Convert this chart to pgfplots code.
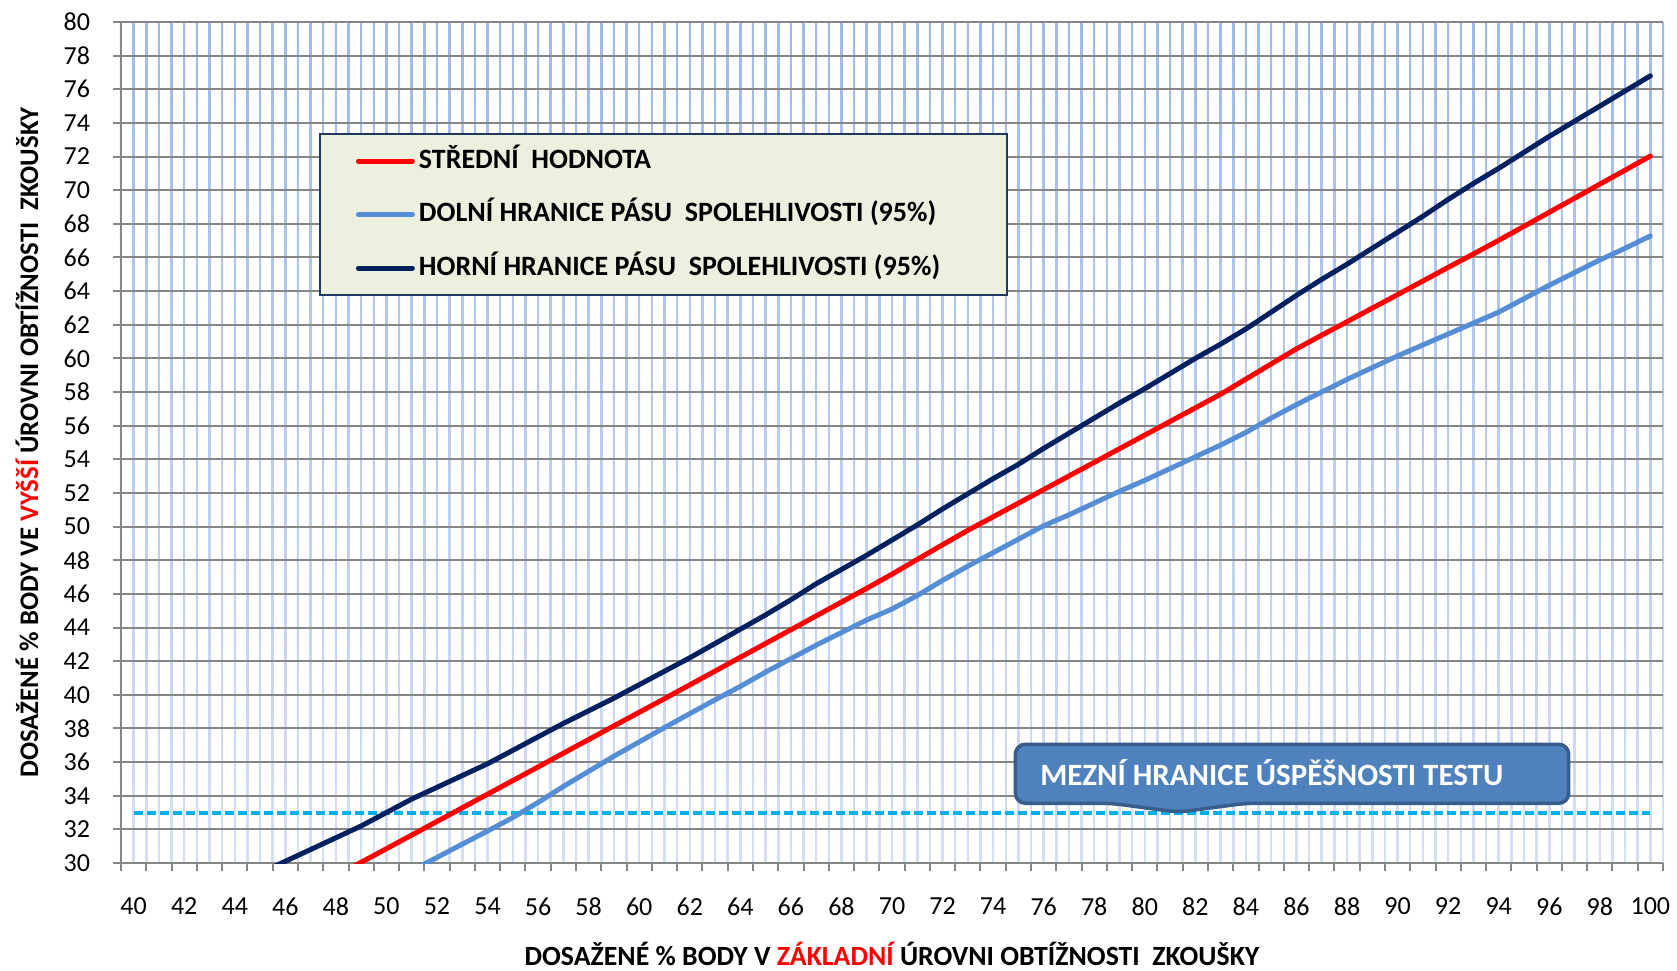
\documentclass[border=0pt]{standalone}
\usepackage{pgfplots}
\pgfplotsset{compat=1.18}
\usepackage{fontspec}
\setmainfont{Carlito}
\definecolor{navy}{HTML}{002060}
\definecolor{lblue}{HTML}{558ED5}
\definecolor{dashc}{HTML}{00B0F0}
\definecolor{axgray}{HTML}{868686}
\definecolor{gtop}{HTML}{9FBAE6}
\definecolor{gbot}{HTML}{D5DFF2}
\definecolor{legfill}{HTML}{EBF1DE}
\definecolor{legdraw}{HTML}{1F3864}
\definecolor{callfill}{HTML}{4F81BD}
\definecolor{calldraw}{HTML}{385D8A}

\pgfplotstableread{
x y
48 29.23
49 30.04
50 30.85
51 31.66
52 32.47
53 33.28
54 34.09
55 34.90
56 35.71
57 36.53
58 37.34
59 38.15
60 38.96
61 39.77
62 40.59
63 41.41
64 42.23
65 43.05
66 43.87
67 44.69
68 45.51
69 46.33
70 47.17
71 48.05
72 48.92
73 49.78
74 50.58
75 51.39
76 52.20
77 53.01
78 53.82
79 54.63
80 55.44
81 56.25
82 57.06
83 57.87
84 58.77
85 59.67
86 60.57
87 61.38
88 62.18
89 62.99
90 63.79
91 64.60
92 65.41
93 66.21
94 67.02
95 67.85
96 68.69
97 69.52
98 70.36
99 71.19
100 72.03
}\meandata

\pgfplotstableread{
x y
51 29.55
52 30.33
53 31.12
54 31.90
55 32.70
56 33.60
57 34.55
58 35.45
59 36.35
60 37.20
61 38.05
62 38.88
63 39.70
64 40.50
65 41.35
66 42.15
67 42.95
68 43.70
69 44.45
70 45.10
71 45.90
72 46.80
73 47.65
74 48.45
75 49.25
76 50.05
77 50.70
78 51.40
79 52.10
80 52.75
81 53.45
82 54.15
83 54.85
84 55.60
85 56.45
86 57.25
87 58.00
88 58.75
89 59.45
90 60.15
91 60.80
92 61.45
93 62.10
94 62.75
95 63.55
96 64.35
97 65.10
98 65.85
99 66.55
100 67.28
}\lowdata

\pgfplotstableread{
x y
45 29.40
46 30.10
47 30.80
48 31.50
49 32.20
50 33.00
51 33.80
52 34.50
53 35.20
54 35.90
55 36.70
56 37.50
57 38.30
58 39.05
59 39.80
60 40.60
61 41.40
62 42.20
63 43.05
64 43.90
65 44.75
66 45.65
67 46.60
68 47.45
69 48.30
70 49.20
71 50.10
72 51.05
73 51.95
74 52.85
75 53.70
76 54.65
77 55.55
78 56.45
79 57.35
80 58.20
81 59.10
82 60.00
83 60.85
84 61.75
85 62.75
86 63.75
87 64.70
88 65.60
89 66.55
90 67.50
91 68.45
92 69.45
93 70.40
94 71.30
95 72.25
96 73.20
97 74.10
98 75.00
99 75.90
100 76.80
}\uppdata

\begin{document}
\begin{tikzpicture}
\begin{axis}[
  set layers,
  scale only axis, width=771pt, height=420.5pt,
  xmin=39.5, xmax=100.5, ymin=30, ymax=80,
  axis x line*=bottom, axis y line*=left,
  axis line style={draw=axgray, line width=1pt, -},
  xtick={39.5,40.5,...,100.5}, xticklabels={},
  extra x ticks={40,42,...,100},
  extra x tick style={major tick length=0pt},
  ytick={30,32,...,80},
  ymajorgrids,
  major grid style={draw=axgray, line width=1pt},
  tick align=outside,
  major tick length=4pt,
  tick style={draw=axgray, line width=1pt},
  /pgf/number format/assume math mode=true,
  tick label style={font=\fontsize{13}{15}\selectfont, text=black},
  xticklabel style={yshift=-14pt},
  yticklabel style={xshift=-8pt},
  xlabel={\bfseries DOSAŽENÉ \% BODY V \textcolor{red}{ZÁKLADNÍ} ÚROVNI OBTÍŽNOSTI\ \ ZKOUŠKY},
  ylabel={\bfseries DOSAŽENÉ \% BODY VE \textcolor{red}{VYŠŠÍ} ÚROVNI OBTÍŽNOSTI\ \ ZKOUŠKY},
  xlabel style={font=\fontsize{13.9}{16}\selectfont, inner sep=0pt, at={(axis description cs:0.5,-0.1215)}, anchor=base},
  ylabel style={font=\fontsize{13.4}{16}\selectfont, at={(axis description cs:-0.061,0.5)}, anchor=center},
  legend style={at={(axis cs:47.33,73.4)}, anchor=north west,
    fill=legfill, draw=legdraw, line width=1pt,
    font=\bfseries\fontsize{14}{16}\selectfont,
    inner xsep=18pt, inner ysep=6pt, row sep=11.75pt,
    nodes={text height=9pt, text depth=2pt, inner ysep=2pt},
    cells={anchor=west}},
  legend image code/.code={\draw[#1, line cap=round] (0pt,0pt) -- (27pt,0pt);},
  line join=round,
]
\begin{pgfonlayer}{axis background}
\pgfplotsinvokeforeach{0,...,122}{
  \shade[top color=gtop, bottom color=gbot]
    ([xshift=-0.5pt]axis cs:{39.5+#1*0.5},30) rectangle ([xshift=0.5pt]axis cs:{39.5+#1*0.5},80);
}
\end{pgfonlayer}

\addplot[dashc, line width=2pt, dash pattern=on 4.5pt off 2pt, forget plot] coordinates {(40,33) (100,33)};
\addplot[red, line width=2.5pt, line cap=round] table[x=x,y=y] {\meandata};
\addlegendentry{\makebox[274pt][l]{STŘEDNÍ\ \ HODNOTA}}
\addplot[lblue, line width=2.5pt, line cap=round] table[x=x,y=y] {\lowdata};
\addlegendentry{\makebox[274pt][l]{DOLNÍ HRANICE PÁSU\ \ SPOLEHLIVOSTI (95\%)}}
\addplot[navy, line width=2.5pt, line cap=round] table[x=x,y=y] {\uppdata};
\addlegendentry{\makebox[274pt][l]{HORNÍ HRANICE PÁSU\ \ SPOLEHLIVOSTI\ (95\%)}}

\draw[fill=callfill, draw=calldraw, line width=1.75pt, rounded corners=5pt]
  (axis cs:74.88,37.06) -- (axis cs:96.77,37.06) -- (axis cs:96.77,33.55)
  -- (axis cs:84.0,33.55) -- (axis cs:81.32,33.02) -- (axis cs:78.67,33.55)
  -- (axis cs:74.88,33.55) -- cycle;
\node[anchor=west, text=white, font=\bfseries\fontsize{15.5}{18}\selectfont, inner sep=0pt]
  at (axis cs:75.85,35.35) {MEZNÍ HRANICE ÚSPĚŠNOSTI TESTU};
\coordinate (pa) at (rel axis cs:0,0);
\end{axis}
\pgfresetboundingbox
\path[use as bounding box] ([shift={(-60.5pt,-53.5pt)}]pa) rectangle ++(838.5pt,485pt);
\end{tikzpicture}
\end{document}
